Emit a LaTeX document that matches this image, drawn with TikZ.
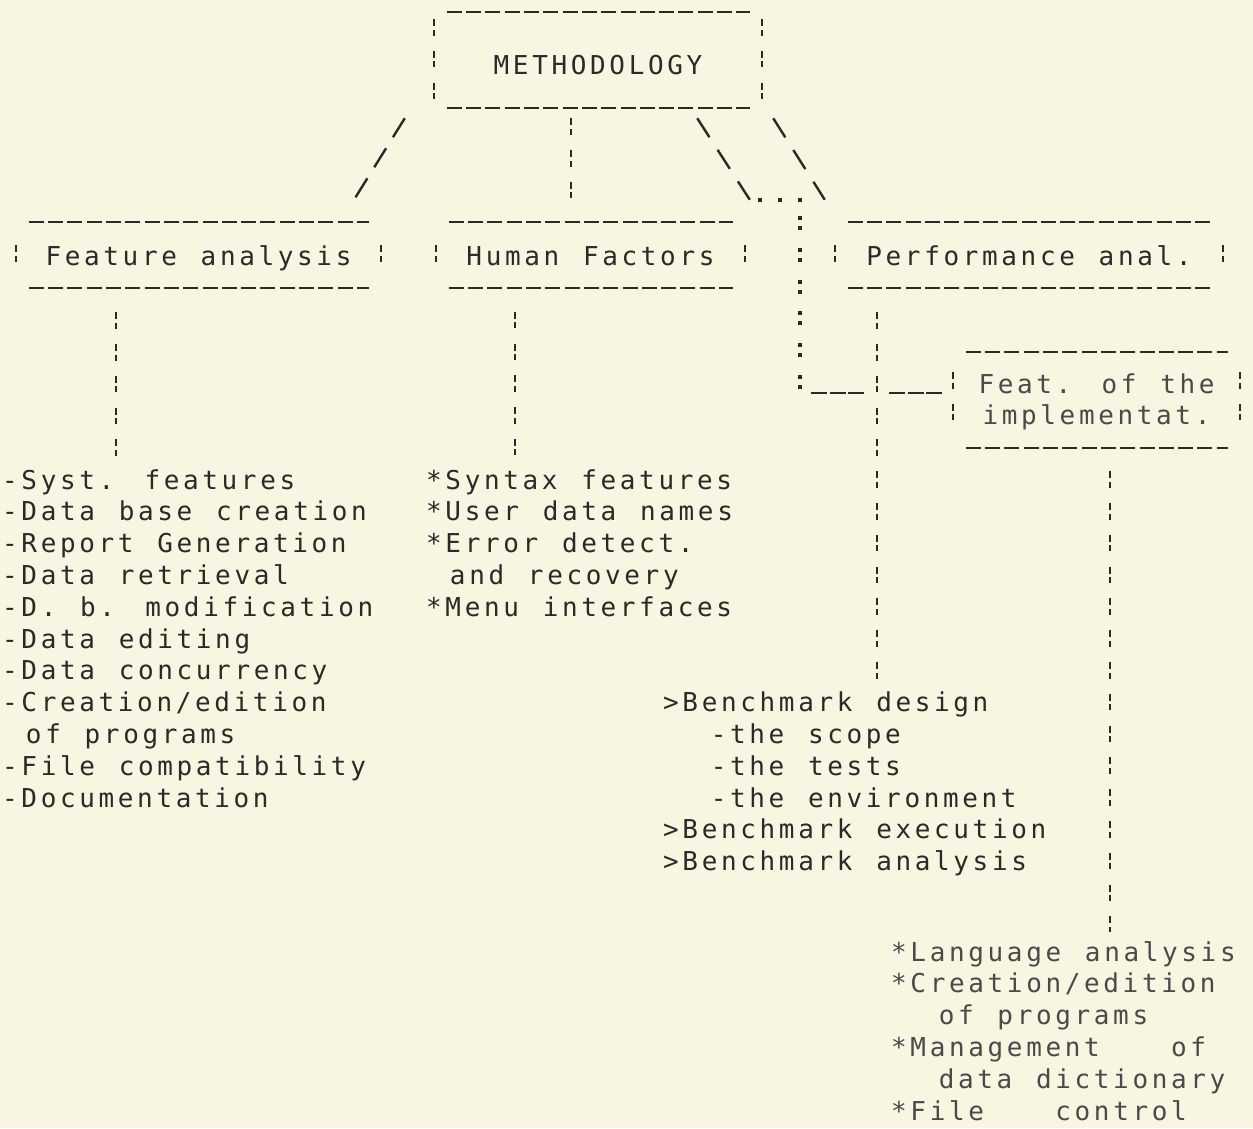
\documentclass[tikz,border=0pt]{standalone}
\usepackage{fontspec}
\newfontfamily\dmfam[LetterSpace=14,WordSpace=1.233]{DejaVu Sans Mono}
\newcommand\dmfont{\dmfam\fontsize{26}{31.8}\selectfont}
\definecolor{paper}{HTML}{F8F5E1}
\definecolor{ink}{HTML}{2A2A2A}
\definecolor{inklight}{HTML}{4A4A4A}
\newcommand\asciibox[2]{%
  \draw[hdash] ([xshift=13pt]#1.north west) -- ([xshift=-12pt]#1.north east);
  \draw[hdash] ([xshift=13pt]#1.south west) -- ([xshift=-12pt]#1.south east);
  \draw[vbar] ([yshift=#2]#1.west) -- ([yshift=-#2]#1.west);
  \draw[vbar] ([yshift=#2]#1.east) -- ([yshift=-#2]#1.east);
}
\tikzset{
  txt/.style={font=\dmfont, text=ink, inner sep=0pt, anchor=base west},
  txtl/.style={txt, text=inklight},
  abox/.style={font=\dmfont, text=ink, inner sep=0pt, text depth=0pt},
  hdash/.style={draw=ink, line width=2pt, dash pattern=on 15pt off 4.3pt},
  vbar/.style={draw=ink, line width=2.4pt, dash pattern=on 7pt off 3.5pt on 6pt off 15.3pt},
  slashline/.style={draw=ink, line width=2.4pt, dash pattern=on 22.4pt off 13pt},
  bslashline/.style={draw=ink, line width=2.4pt, dash pattern=on 22.6pt off 15pt},
  colonline/.style={draw=ink, line width=4pt, dash pattern=on 4pt off 6pt on 4pt off 17.8pt},
  dotrow/.style={draw=ink, line width=4pt, dash pattern=on 4pt off 16pt, shorten <=8pt, shorten >=20pt},
  underline/.style={draw=ink, line width=2.2pt, dash pattern=on 16pt off 2.5pt on 16pt off 2.5pt on 16pt off 25pt, shorten <=11pt, shorten >=11pt}
}
\begin{document}
\begin{tikzpicture}[x=1pt,y=-1pt]
\fill[paper] (0,0) rectangle (1253,1128);
\useasboundingbox (0,0) rectangle (1253,1128);

% boxes
\node[abox, minimum width=328pt, minimum height=95pt, text height=28pt] (meth) at (598,60) {METHODOLOGY\hspace{17pt}};
\node[abox, minimum width=365pt, minimum height=66pt, text height=20pt] (fa) at (198.5,255) {Feature analysis};
\node[abox, minimum width=309pt, minimum height=65pt, text height=20pt] (hf) at (590.5,255) {Human Factors};
\node[abox, minimum width=388pt, minimum height=66pt, text height=20pt] (pa) at (1029,255) {Performance anal.};
\node[abox, text=inklight, minimum width=287pt, minimum height=96pt, text height=20pt, text depth=34pt] (feat) at (1096.5,400)
  {\begin{tabular}[t]{@{}c@{}}Feat. of the\\implementat.\end{tabular}};

\asciibox{meth}{41pt}
\asciibox{fa}{10pt}
\asciibox{hf}{10pt}
\asciibox{pa}{10pt}
\asciibox{feat}{28pt}

% left list
\node[txt] (L0) at (2,{489+31.8*0}) {-Syst. features};
\node[txt] (L1) at (2,{489+31.8*1}) {-Data base creation};
\node[txt] (L2) at (2,{489+31.8*2}) {-Report Generation};
\node[txt] (L3) at (2,{489+31.8*3}) {-Data retrieval};
\node[txt] (L4) at (2,{489+31.8*4}) {-D. b. modification};
\node[txt] (L5) at (2,{489+31.8*5}) {-Data editing};
\node[txt] (L6) at (2,{489+31.8*6}) {-Data concurrency};
\node[txt] (L7) at (2,{489+31.8*7}) {-Creation/edition};
\node[txt] (L8) at (2,{489+31.8*8}) {\ of programs};
\node[txt] (L9) at (2,{489+31.8*9}) {-File compatibility};
\node[txt] (L10) at (2,{489+31.8*10}) {-Documentation};

% human factors list
\node[txt] (H0) at (426,{489+31.8*0}) {*Syntax features};
\node[txt] (H1) at (426,{489+31.8*1}) {*User data names};
\node[txt] (H2) at (426,{489+31.8*2}) {*Error detect.};
\node[txt] (H3) at (426,{489+31.8*3}) {\ and recovery};
\node[txt] (H4) at (426,{489+31.8*4}) {*Menu interfaces};

% benchmark list
\node[txt] (B0) at (663,{489+31.8*7}) {>Benchmark design};
\node[txt] (B1) at (663,{489+31.8*8}) {\ \ -the scope};
\node[txt] (B2) at (663,{489+31.8*9}) {\ \ -the tests};
\node[txt] (B3) at (663,{489+31.8*10}) {\ \ -the environment};
\node[txt] (B4) at (663,{489+31.8*11}) {>Benchmark execution};
\node[txt] (B5) at (663,{489+31.8*12}) {>Benchmark analysis};

% implementation list
\node[txtl] (I0) at (891,{484+31.8*15}) {*Language analysis};
\node[txtl] (I1) at (891,{484+31.8*16}) {*Creation/edition};
\node[txtl] (I2) at (891,{484+31.8*17}) {\ \ of programs};
\node[txtl] (I3) at (891,{484+31.8*18}) {*Management\ \ \ of};
\node[txtl] (I4) at (891,{484+31.8*19}) {\ \ data dictionary};
\node[txtl] (I5) at (891,{484+31.8*20}) {*File\ \ \ control};

% free ends of connectors
\coordinate (favend) at (116,458);
\coordinate (hfvend) at (515,458);
\coordinate (pvend) at (877,680);
\coordinate (fvend) at (1110,932);
\coordinate (ctop) at (800,216);
\coordinate (junc) at (800,393);

% connectors from METHODOLOGY
\draw[slashline] ([xshift=-29pt,yshift=-10.5pt]meth.south west) -- ([xshift=-26pt,yshift=24pt]fa.north east);
\draw[vbar] ([xshift=-27pt,yshift=-10.5pt]meth.south) -- ([xshift=-19.5pt,yshift=22pt]hf.north);
\draw[bslashline] ([xshift=-65pt,yshift=-10.5pt]meth.south east) -- ([xshift=-85pt,yshift=22pt]pa.north west) coordinate (bs1e);
\draw[bslashline] ([xshift=11pt,yshift=-10.5pt]meth.south east) -- ([xshift=-10pt,yshift=22pt]pa.north west) coordinate (bs2e);
\draw[dotrow] (bs1e) -- (bs2e);
\draw[colonline] (ctop) -- (junc);
\draw[underline] (junc) -- (junc -| feat.west);

% connectors down to lists
\draw[vbar] ([xshift=-82.5pt,yshift=-24pt]fa.south) -- (favend);
\draw[vbar] ([xshift=-75.5pt,yshift=-24pt]hf.south) -- (hfvend);
\draw[vbar] ([xshift=-152pt,yshift=-24pt]pa.south) -- (pvend);
\draw[vbar] ([xshift=13.5pt,yshift=-23pt]feat.south) -- (fvend);
\end{tikzpicture}
\end{document}
